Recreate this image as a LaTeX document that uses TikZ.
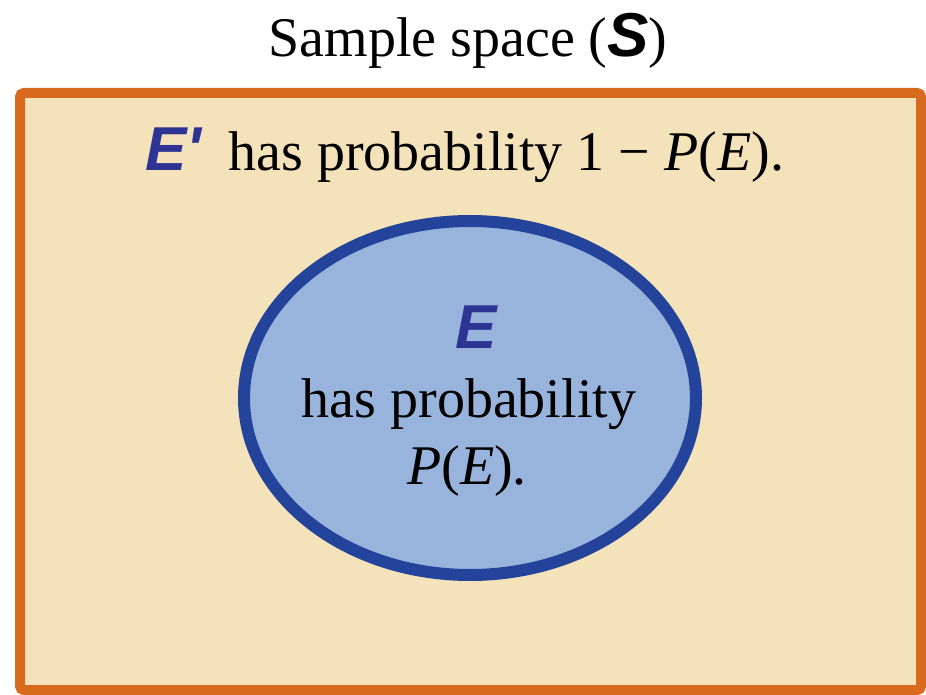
\documentclass[tikz,border=0pt]{standalone}
\usepackage{fontspec}
\setmainfont{Liberation Serif}
\newfontfamily\hsans{Liberation Sans}
\definecolor{sbeige}{HTML}{F4E2BA}
\definecolor{sorange}{HTML}{D86A1E}
\definecolor{efill}{HTML}{98B4DC}
\definecolor{eline}{HTML}{24449B}
\definecolor{eblue}{HTML}{2D3494}
\begin{document}
\begin{tikzpicture}[x=0.5pt,y=-0.5pt,
  serif/.style={inner sep=0pt, font=\fontsize{28}{34}\selectfont},
  bigE/.style={inner sep=0pt, font=\hsans\bfseries\itshape\fontsize{31}{36}\selectfont, text=eblue}]
\useasboundingbox (0,0) rectangle (926,695);
\fill[white] (0,0) rectangle (926,695);
\draw[line width=5pt, draw=sorange, fill=sbeige, rounded corners=2pt] (20,93) rectangle (921,690);
\draw[line width=6pt, draw=eline, fill=efill] (470,398) ellipse [x radius=226, y radius=177];
\node[serif, anchor=base] (title) at (468,57) {Sample space ({\hsans\bfseries\itshape\fontsize{31}{36}\selectfont S})};
\node[bigE, anchor=base west] (eprime) at (145,171) {E'};
\node[serif, anchor=base west] (ecompl) at (228,171) {has probability 1 − \textit{P}(\textit{E}).};
\node[bigE, anchor=base] (e) at (476,348) {E};
\node[serif, anchor=base] (l1) at (469,417) {has probability};
\node[serif, anchor=base] (l2) at (467,484) {\textit{P}(\textit{E}).};
\end{tikzpicture}
\end{document}
